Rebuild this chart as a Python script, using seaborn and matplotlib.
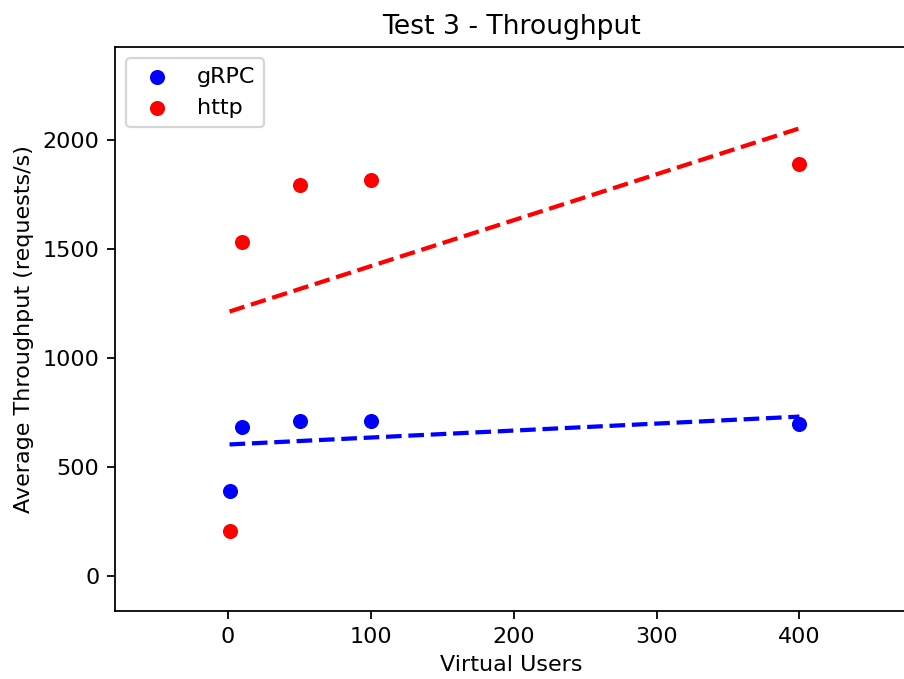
import matplotlib
matplotlib.use("Agg")
import matplotlib.pyplot as plt
import pandas as pd
import seaborn as sns

virtual_users = [1, 10, 50, 100, 400]
grpc_throughput = [391, 685, 711, 711, 700]
http_throughput = [208, 1531, 1794, 1815, 1891]

df = pd.DataFrame({
    "users": virtual_users * 2,
    "throughput": grpc_throughput + http_throughput,
    "protocol": ["gRPC"] * len(virtual_users) + ["http"] * len(virtual_users),
})
colors = {"gRPC": "blue", "http": "red"}

DPI = 160
fig = plt.figure(figsize=(904 / DPI, 679 / DPI), dpi=DPI)
ax = fig.add_axes([115 / 904, (679 - 611) / 679, (908 - 115) / 904, (611 - 47) / 679])

for proto, sub in df.groupby("protocol"):
    sns.regplot(data=sub, x="users", y="throughput", ax=ax, ci=None,
                color=colors[proto], label=proto,
                scatter_kws={"s": 46, "alpha": 1, "linewidths": 0},
                line_kws={"linestyle": "--", "linewidth": 1.9})

ax.set_xlim(-79.2, 476)
ax.set_ylim(-160, 2427)
ax.set_xticks([0, 100, 200, 300, 400])
ax.set_yticks([0, 500, 1000, 1500, 2000])
ax.set_title("Test 3 - Throughput")
ax.set_xlabel("Virtual Users")
ax.set_ylabel("Average Throughput (requests/s)")
ax.legend(loc="upper left")

fig.savefig("out.png", dpi=DPI)
